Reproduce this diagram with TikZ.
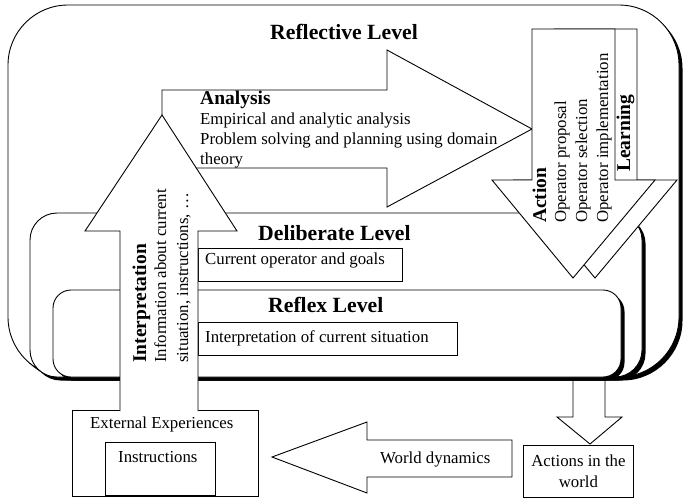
\documentclass[tikz,border=0pt]{standalone}
\usepackage{fontspec}
\setmainfont{Liberation Serif}
\usetikzlibrary{shadows,positioning}
\tikzset{%
  % Specifications for the levels and the block arrows
   levelbox/.style = {draw, fill=white, line width=0.9pt,
                      drop shadow={shadow xshift=3.5pt, shadow yshift=-3.5pt,
                                   fill=black, opacity=1}},
  blockarrow/.style = {draw, fill=white, line width=0.9pt, line join=miter},
    framebox/.style = {draw, fill=white, line width=0.9pt, inner sep=0pt},
  % Specifications for the texts
  leveltitle/.style = {font=\fontsize{21.7}{24}\selectfont\bfseries, inner sep=0pt},
     heading/.style = {font=\fontsize{19.5}{21}\selectfont\bfseries, inner sep=0pt},
    bodytext/.style = {font=\fontsize{16.8}{21}\selectfont, inner sep=0pt},
}
\begin{document}
\begin{tikzpicture}[x=1pt, y=-1pt]
\useasboundingbox (0,0) rectangle (683,499);
% Reflective level and the analysis arrow
\draw[levelbox, rounded corners=60pt] (8,5) rectangle (679,377);
\draw[blockarrow] (162,90) -- (387,90) -- (387,50) -- (532,129) -- (387,207)
   -- (387,168) -- (162,168) -- cycle;
% Deliberate and reflex levels
\draw[levelbox, rounded corners=27pt] (30,213) rectangle (642,377);
\draw[levelbox, rounded corners=18pt] (53,290) rectangle (621,377);
% Learning (behind) and action arrows
\draw[blockarrow] (554,29) -- (637,29) -- (637,180) -- (677,180) -- (595,278)
   -- (514,180) -- (554,180) -- cycle;
\draw[blockarrow] (532,29) -- (615,29) -- (615,180) -- (655,180) -- (573,278)
   -- (492,180) -- (532,180) -- cycle;
% Boxes inside the levels
\node (opbox)  [framebox, anchor=north west, minimum width=204pt, minimum height=33pt]
   at (198,248) {};
\node (sitbox) [framebox, anchor=north west, minimum width=259pt, minimum height=33pt]
   at (198,322) {};
% External experiences
\node (extbox) [framebox, anchor=north west, minimum width=186pt, minimum height=86pt]
   at (72,410) {};
\node (instr)  [framebox, anchor=south west, minimum width=110pt, minimum height=53pt]
   at (105,496) {};
% Interpretation arrow (open at its foot)
\path[blockarrow] (120,411) -- (120,231) -- (85,231) -- (162,115) -- (237,231)
   -- (198,231) -- (198,411);
% Arrow to the world, world dynamics
\path[blockarrow] (573,381) -- (573,417) -- (557,417) -- (590,444) -- (622,417)
   -- (605,417) -- (605,381);
\draw[blockarrow] (512,440) -- (367,440) -- (367,422) -- (272,457) -- (367,493)
   -- (367,477) -- (512,477) -- cycle;
\node (actions) [framebox, anchor=north west, minimum width=110pt, minimum height=52pt,
   bodytext, align=center] at (523,445) {Actions in the\\world};
% Texts
\node (refl)  [leveltitle, anchor=base west] at (270,39)  {Reflective Level};
\node (delib) [leveltitle, anchor=base west] at (258,240) {Deliberate Level};
\node (rflx)  [leveltitle, anchor=base west] at (268,312) {Reflex Level};
\node (anhead) [heading, anchor=base west] at (200,104) {Analysis};
\foreach \line [count=\i] in {Empirical and analytic analysis,
   Problem solving and planning using domain, theory}
  \node (an\i) [bodytext, anchor=base west] at (200,104+20*\i) {\line};
\node (optxt)  [bodytext, anchor=base west] at (205,264) {Current operator and goals};
\node (sittxt) [bodytext, anchor=base west] at (205,342) {Interpretation of current situation};
\node (exttxt) [bodytext, anchor=base west] at (90,428)  {External Experiences};
\node (instrtxt) [bodytext, anchor=base west] at (118,462) {Instructions};
\node (worldtxt) [bodytext, anchor=base west] at (380,463) {World dynamics};
% Rotated texts in the interpretation arrow
\node (inthead) [heading, rotate=90, anchor=base west] at (146,363) {Interpretation};
\node (int1) [bodytext, rotate=90, anchor=base west] at (166,363) {Information about current};
\node (int2) [bodytext, rotate=90, anchor=base west] at (188,363) {situation, instructions, \dots};
% Rotated texts in the action and learning arrows
\node (acthead) [heading, rotate=90, anchor=base west] at (546,223) {Action};
\foreach \line [count=\i from 0] in {Operator proposal, Operator selection,
   Operator implementation}
  \node (op\i) [bodytext, rotate=90, anchor=base west] at (566+21*\i,223) {\line};
\node (learn) [heading, rotate=90, anchor=base west] at (630,172) {Learning};
\end{tikzpicture}
\end{document}
